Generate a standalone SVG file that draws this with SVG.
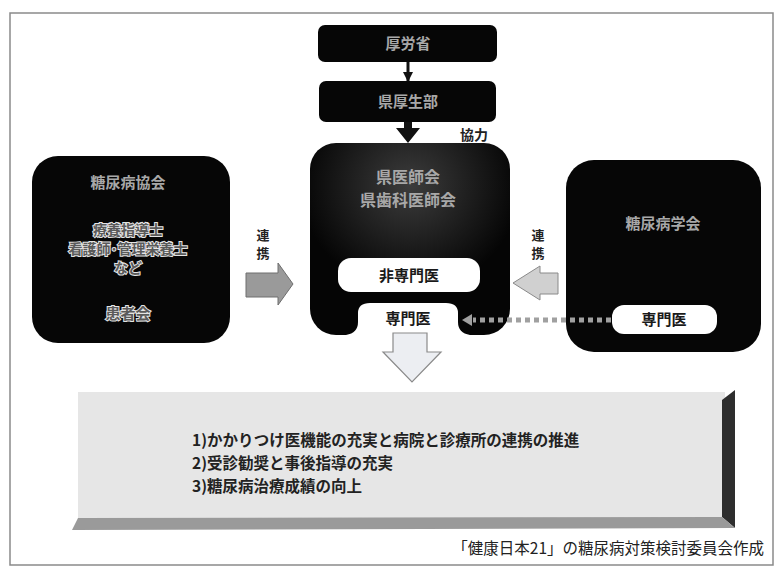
<svg xmlns="http://www.w3.org/2000/svg" width="777" height="570" viewBox="0 0 777 570">
<defs>
<radialGradient id="glow" cx="0.5" cy="0.22" r="0.55">
<stop offset="0" stop-color="#3c3c3c"/>
<stop offset="1" stop-color="#050505"/>
</radialGradient>
<marker id="tri" markerWidth="10" markerHeight="10" refX="9" refY="5" orient="auto" markerUnits="userSpaceOnUse">
<path d="M0,0 L10,5 L0,10 Z" fill="#111"/>
</marker>
</defs>
<style>
text{font-family:"Noto Sans CJK JP","Noto Sans CJK SC",sans-serif;font-weight:bold;text-anchor:middle}
.blk{fill:#060606}
.gt{fill:#a8a8a8;font-size:15px}
.halo{fill:#5a5a5a;stroke:#e4e4e4;stroke-width:2px;paint-order:stroke;font-size:14px}
.wt{fill:#1a1a1a;font-size:15px}
.white{fill:#fff}
.lbl{fill:#222;font-size:13px}
.item{fill:#222;font-size:15.5px;text-anchor:start}
</style>
<rect x="10" y="13" width="763" height="552" fill="#fff" stroke="#8a8a8a" stroke-width="1.5"/>

<g id="node-mhlw">
<rect class="blk" x="318" y="25" width="179" height="37" rx="7"/>
<text class="gt" x="408" y="49">厚労省</text>
</g>

<g id="node-pref-health">
<rect class="blk" x="319" y="81" width="177" height="41" rx="7"/>
<text class="gt" x="408" y="107">県厚生部</text>
</g>

<g id="node-diabetes-assoc">
<rect class="blk" x="32" y="156" width="198" height="187" rx="26"/>
<text class="gt" x="128" y="188">糖尿病協会</text>
<text class="halo" x="128" y="235">療養指導士</text>
<text class="halo" x="128" y="254">看護師･管理栄養士</text>
<text class="halo" x="128" y="273">など</text>
<text class="halo" x="128" y="319" style="font-size:15px">患者会</text>
</g>

<g id="node-medical-assoc">
<rect x="310" y="143" width="200" height="192" rx="26" fill="url(#glow)"/>
<text class="gt" x="408" y="183" style="font-size:16px">県医師会</text>
<text class="gt" x="408" y="206" style="font-size:16px">県歯科医師会</text>
<g id="node-nonspecialist">
<rect class="white" x="338" y="258" width="142" height="34" rx="13"/>
<text class="wt" x="409" y="281">非専門医</text>
</g>
<g id="node-specialist-center">
<path class="white" d="M370,303 L446,303 Q458,303 458,313 L458,322 Q458,333 470,335 L346,335 Q358,333 358,322 L358,313 Q358,303 370,303 Z"/>
<text class="wt" x="408" y="324">専門医</text>
</g>
</g>

<g id="node-diabetes-society">
<rect class="blk" x="566" y="160" width="195" height="192" rx="28"/>
<text class="gt" x="663" y="229">糖尿病学会</text>
<g id="node-specialist-right">
<rect class="white" x="612" y="305" width="105" height="29" rx="12"/>
<text class="wt" x="664" y="325">専門医</text>
</g>
</g>

<g id="node-goals">
<rect x="78" y="392" width="647" height="126" fill="#e6e6e6"/>
<path d="M722,400 L735,390 L735,528 L722,517 Z" fill="#2e2e2e"/>
<path d="M78,518 L722,517 L735,528 L72,530 Z" fill="#9a9a9a"/>
<text class="item" x="192" y="446">1)かかりつけ医機能の充実と病院と診療所の連携の推進</text>
<text class="item" x="192" y="469">2)受診勧奨と事後指導の充実</text>
<text class="item" x="192" y="492">3)糖尿病治療成績の向上</text>
</g>

<g id="connectors">
<line x1="408" y1="62" x2="408" y2="81" stroke="#111" stroke-width="3" marker-end="url(#tri)"/>
<path d="M404,122 L404,128 L396,128 L408,143 L420,128 L412,128 L412,122 Z" fill="#111"/>
<text class="lbl" x="474" y="140" style="font-size:14px">協力</text>
<text class="lbl" x="263" y="240">連</text>
<text class="lbl" x="263" y="258">携</text>
<path d="M246,273 L278,273 L278,263 L293,284 L278,305 L278,297 L246,297 Z" fill="#9a9a9a" stroke="#6e6e6e" stroke-width="1"/>
<text class="lbl" x="538" y="240">連</text>
<text class="lbl" x="538" y="258">携</text>
<path d="M558,273 L540,273 L540,266 L513,283 L540,300 L540,294 L558,294 Z" fill="#d0d0d0" stroke="#8a8a8a" stroke-width="1"/>
<line x1="611" y1="320" x2="473" y2="320" stroke="#a0a0a0" stroke-width="5" stroke-dasharray="5 4"/>
<path d="M472,314 L462,320 L472,326 Z" fill="#a0a0a0"/>
<path d="M393,333 L427,333 L427,352 L441,352 L412,382 L383,352 L393,352 Z" fill="#eceef2" stroke="#8a8a8a" stroke-width="1.2"/>
</g>

<text x="764" y="554" style="font-size:15.5px;fill:#222;text-anchor:end;font-weight:normal">「健康日本21」の糖尿病対策検討委員会作成</text>
</svg>
